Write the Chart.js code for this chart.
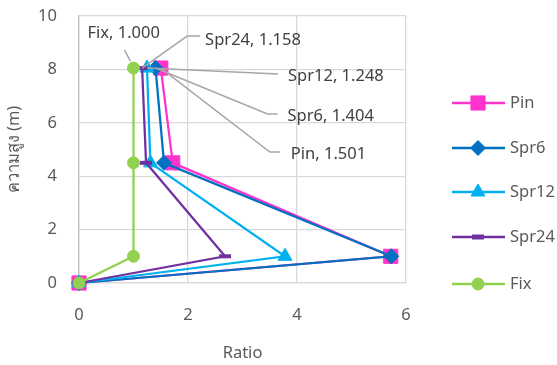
<!DOCTYPE html>
<html><head><meta charset="utf-8">
<script src="https://cdn.jsdelivr.net/npm/chart.js@4"></script>
<style>html,body{margin:0;padding:0;background:#fff;}#wrap{width:557px;height:365px;}</style>
</head><body><div id="wrap"><canvas id="c" width="557" height="365"></canvas></div>
<script>
const heights = [0, 1, 4.5, 8.05];
const seriesNames = ['Pin', 'Spr6', 'Spr12', 'Spr24', 'Fix'];
const pinRatio   = [0, 5.72, 1.72, 1.501];
const spr6Ratio  = [0, 5.73, 1.56, 1.404];
const spr12Ratio = [0, 3.78, 1.31, 1.248];
const spr24Ratio = [0, 2.68, 1.23, 1.158];
const fixRatio   = [0, 1.0, 1.0, 1.000];
const xTicks = [0, 2, 4, 6];
const yTicks = [0, 2, 4, 6, 8, 10];
const xTitle = 'Ratio';
const yTitle = 'ความสูง (m)';

const colors = ['#FF33CC', '#0070C0', '#00B0F0', '#7030A0', '#92D050'];
const styles = [
  {pointStyle:'rect', radius:10, bw:1},
  {pointStyle:'rectRot', radius:7.5, bw:1},
  {pointStyle:'triangle', radius:8, bw:1},
  {pointStyle:'line', radius:6, bw:4},
  {pointStyle:'circle', radius:6, bw:1}
];
const allRatios = [pinRatio, spr6Ratio, spr12Ratio, spr24Ratio, fixRatio];

const datasets = seriesNames.map((n, i) => ({
  label: n,
  data: heights.map((h, k) => ({x: allRatios[i][k], y: h})),
  showLine: true,
  clip: false,
  borderColor: colors[i],
  backgroundColor: colors[i],
  borderWidth: 2.25,
  pointStyle: styles[i].pointStyle,
  pointRadius: styles[i].radius,
  pointHoverRadius: styles[i].radius,
  pointBorderWidth: styles[i].bw,
  pointBorderColor: colors[i],
  pointBackgroundColor: colors[i],
  order: 5 - i
}));

const labelDefs = {
  'Fix':   {tx: -46, ty: -35, path: [[-9,-18],[-3,-7]]},
  'Spr24': {tx: 63, ty: -28, path: [[0,0],[45,-32],[58,-32]]},
  'Spr12': {tx: 141, ty: 8, path: [[0,0],[131,6]]},
  'Spr6':  {tx: 132, ty: 48, path: [[0,0],[112,46],[122,46]]},
  'Pin':   {tx: 130, ty: 86, path: [[0,0],[109,84],[119,84]]}
};

const FONT = "'Noto Sans', 'Open Sans', sans-serif";
const FS = 16.5;

const extras = {
  id: 'extras',
  afterDatasetsDraw(chart) {
    const ctx = chart.ctx;
    ctx.save();
    chart.data.datasets.forEach((ds, i) => {
      const meta = chart.getDatasetMeta(i);
      const last = meta.data[meta.data.length - 1];
      const def = labelDefs[ds.label];
      const px = last.x, py = last.y;
      ctx.strokeStyle = '#A6A6A6';
      ctx.lineWidth = 1.5;
      ctx.beginPath();
      def.path.forEach((p, k) => {
        if (k === 0) ctx.moveTo(px + p[0], py + p[1]); else ctx.lineTo(px + p[0], py + p[1]);
      });
      ctx.stroke();
      ctx.fillStyle = '#404040';
      ctx.font = FS + 'px ' + FONT;
      ctx.textAlign = 'left';
      ctx.textBaseline = 'middle';
      const v = ds.data[ds.data.length - 1].x.toFixed(3);
      ctx.fillText(ds.label + ', ' + v, px + def.tx, py + def.ty);
    });
    ctx.restore();
  },
  afterDraw(chart) {
    const ctx = chart.ctx;
    const ca = chart.chartArea;
    ctx.save();
    ctx.fillStyle = '#595959';
    ctx.font = FS + 'px ' + FONT;
    ctx.textAlign = 'center';
    ctx.textBaseline = 'middle';
    ctx.fillText(xTitle, (ca.left + ca.right) / 2, 353);
    ctx.save();
    ctx.translate(14, (ca.top + ca.bottom) / 2);
    ctx.rotate(-Math.PI / 2);
    ctx.fillText(yTitle, 0, 0);
    ctx.restore();
    const ly = [103, 148, 192, 237, 284];
    seriesNames.forEach((n, i) => {
      const y = ly[i];
      ctx.strokeStyle = colors[i];
      ctx.lineWidth = 2.5;
      ctx.beginPath(); ctx.moveTo(452, y); ctx.lineTo(505, y); ctx.stroke();
      const opts = {pointStyle: styles[i].pointStyle, radius: styles[i].radius, borderWidth: styles[i].pointStyle === 'line' ? 5 : 1, rotation: 0};
      ctx.fillStyle = colors[i];
      ctx.strokeStyle = colors[i];
      ctx.lineWidth = opts.borderWidth;
      Chart.helpers.drawPoint(ctx, opts, 478, y);
      ctx.fillStyle = '#595959';
      ctx.font = FS + 'px ' + FONT;
      ctx.textAlign = 'left';
      ctx.textBaseline = 'middle';
      ctx.fillText(n, 510, y);
    });
    ctx.restore();
  }
};

new Chart(document.getElementById('c'), {
  type: 'scatter',
  data: {datasets},
  plugins: [extras],
  options: {
    responsive: false,
    animation: false,
    events: [],
    layout: {padding: {left: 0, right: 151, top: 16, bottom: 0}},
    plugins: {legend: {display: false}, tooltip: {enabled: false}},
    scales: {
      x: {
        type: 'linear', min: 0, max: 6,
        afterBuildTicks: s => { s.ticks = xTicks.map(v => ({value: v})); },
        afterFit: s => { s.height = 82; s.paddingLeft = 0; s.paddingRight = 0; },
        grid: {color: '#D9D9D9', lineWidth: 1.3, drawTicks: false},
        border: {color: '#D9D9D9', width: 1.3},
        ticks: {padding: 22, color: '#595959', font: {size: FS, family: FONT}}
      },
      y: {
        type: 'linear', min: 0, max: 10,
        afterBuildTicks: s => { s.ticks = yTicks.map(v => ({value: v})); },
        afterFit: s => { s.width = 79; s.paddingTop = 0; s.paddingBottom = 0; },
        grid: {color: '#D9D9D9', lineWidth: 1.3, drawTicks: false},
        border: {color: '#BFBFBF', width: 1.3},
        ticks: {padding: 22, color: '#595959', font: {size: FS, family: FONT}}
      }
    }
  }
});
</script></body></html>
